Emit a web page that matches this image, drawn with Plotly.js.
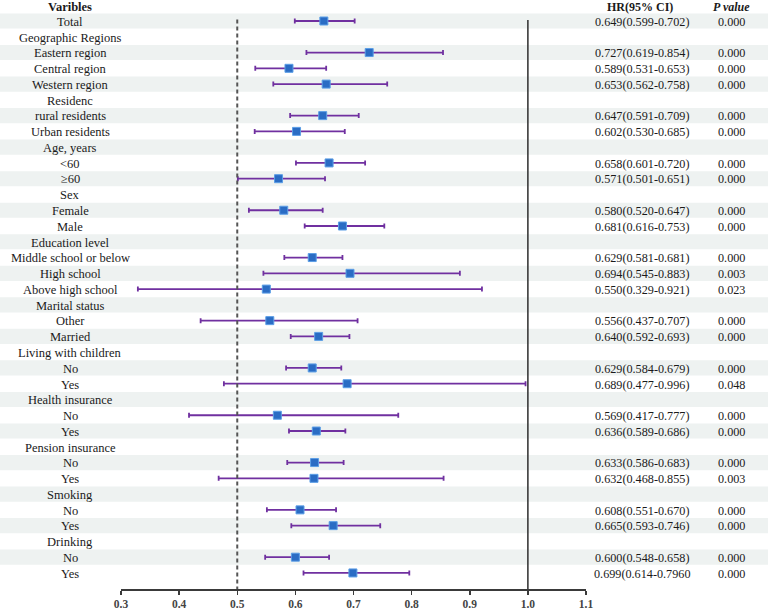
<!DOCTYPE html>
<html>
<head>
<meta charset="utf-8">
<script src="https://cdn.plot.ly/plotly-3.0.1.min.js"></script>
<style>
  html, body { margin: 0; padding: 0; background: #ffffff; }
  #chart { width: 768px; height: 611px; }
</style>
</head>
<body>
<div id="chart"></div>
<script>
// Row labels, top to bottom (group headers have no estimate)
const labels = [
  "Total", "Geographic Regions", "Eastern region", "Central region", "Western region",
  "Residenc", "rural residents", "Urban residents", "Age, years", "<60", "\u226560",
  "Sex", "Female", "Male", "Education level", "Middle school or below", "High school",
  "Above high school", "Marital status", "Other", "Married", "Living with children",
  "No", "Yes", "Health insurance", "No", "Yes", "Pension insurance", "No", "Yes",
  "Smoking", "No", "Yes", "Drinking", "No", "Yes"
];

// Hazard ratios and 95% CI bounds (null for group header rows)
const hr = [
  0.649, null, 0.727, 0.589, 0.653,
  null, 0.647, 0.602, null, 0.658, 0.571,
  null, 0.580, 0.681, null, 0.629, 0.694,
  0.550, null, 0.556, 0.640, null,
  0.629, 0.689, null, 0.569, 0.636, null, 0.633, 0.632,
  null, 0.608, 0.665, null, 0.600, 0.699
];
const lower = [
  0.599, null, 0.619, 0.531, 0.562,
  null, 0.591, 0.530, null, 0.601, 0.501,
  null, 0.520, 0.616, null, 0.581, 0.545,
  0.329, null, 0.437, 0.592, null,
  0.584, 0.477, null, 0.417, 0.589, null, 0.586, 0.468,
  null, 0.551, 0.593, null, 0.548, 0.614
];
const upper = [
  0.702, null, 0.854, 0.653, 0.758,
  null, 0.709, 0.685, null, 0.720, 0.651,
  null, 0.647, 0.753, null, 0.681, 0.883,
  0.921, null, 0.707, 0.693, null,
  0.679, 0.996, null, 0.777, 0.686, null, 0.683, 0.855,
  null, 0.670, 0.746, null, 0.658, 0.796
];

// Text columns as printed
const hrText = [
  "0.649(0.599-0.702)", "", "0.727(0.619-0.854)", "0.589(0.531-0.653)", "0.653(0.562-0.758)",
  "", "0.647(0.591-0.709)", "0.602(0.530-0.685)", "", "0.658(0.601-0.720)", "0.571(0.501-0.651)",
  "", "0.580(0.520-0.647)", "0.681(0.616-0.753)", "", "0.629(0.581-0.681)", "0.694(0.545-0.883)",
  "0.550(0.329-0.921)", "", "0.556(0.437-0.707)", "0.640(0.592-0.693)", "",
  "0.629(0.584-0.679)", "0.689(0.477-0.996)", "", "0.569(0.417-0.777)", "0.636(0.589-0.686)", "",
  "0.633(0.586-0.683)", "0.632(0.468-0.855)",
  "", "0.608(0.551-0.670)", "0.665(0.593-0.746)", "", "0.600(0.548-0.658)", "0.699(0.614-0.7960"
];
const pText = [
  "0.000", "", "0.000", "0.000", "0.000",
  "", "0.000", "0.000", "", "0.000", "0.000",
  "", "0.000", "0.000", "", "0.000", "0.003",
  "0.023", "", "0.000", "0.000", "",
  "0.000", "0.048", "", "0.000", "0.000", "", "0.000", "0.003",
  "", "0.000", "0.000", "", "0.000", "0.000"
];

const xTicks = [0.3, 0.4, 0.5, 0.6, 0.7, 0.8, 0.9, 1.0, 1.1];
const xTickText = ["0.3", "0.4", "0.5", "0.6", "0.7", "0.8", "0.9", "1.0", "1.1"];

// geometry
const W = 768, H = 611;
const rowTopPx = 21, rowH = 15.77, axisPx = 589;
const yTop = -rowTopPx / rowH;
const yBottom = (axisPx - rowTopPx) / rowH;
const serif = "Liberation Serif, Times New Roman, serif";

const rows = labels.map((_, i) => i);
const idx = rows.filter(i => hr[i] !== null);

const trace = {
  type: "scatter",
  mode: "markers",
  x: idx.map(i => hr[i]),
  y: idx.map(i => i),
  error_x: {
    type: "data",
    symmetric: false,
    array: idx.map(i => upper[i] - hr[i]),
    arrayminus: idx.map(i => hr[i] - lower[i]),
    color: "#7030a0",
    thickness: 1.8,
    width: 2.5
  },
  marker: {
    symbol: "square",
    size: 8,
    color: "#2a6cc4",
    line: { color: "#5b9ee6", width: 1 }
  },
  hoverinfo: "skip",
  showlegend: false
};

const shapes = [];
// alternating row bands
rows.forEach(i => {
  if (i % 2 === 0) {
    shapes.push({
      type: "rect", xref: "paper", yref: "y",
      x0: 0, x1: 1, y0: i - 0.48, y1: i + 0.48,
      fillcolor: "#eef2f1", line: { width: 0 }, layer: "below"
    });
  }
});
// reference lines
shapes.push({
  type: "line", xref: "x", yref: "y",
  x0: 0.5, x1: 0.5, y0: -0.1, y1: yBottom,
  line: { color: "#555555", width: 2, dash: "4px,3px" }
});
shapes.push({
  type: "line", xref: "x", yref: "y",
  x0: 1.0, x1: 1.0, y0: -0.06, y1: yBottom,
  line: { color: "#3a3a3a", width: 1.6 }
});

const annotations = [];
const labelX = 70 / W, hrX = 642 / W, pX = 731 / W;
const txt = (x, y, text, size, extra) => Object.assign({
  xref: "paper", yref: "y", x: x, y: y, text: text, showarrow: false,
  xanchor: "center", yanchor: "middle",
  font: { family: serif, size: size, color: "#1a1a1a" }
}, extra || {});

// column headers
annotations.push(txt(labelX, -0.88, "<b>Varibles</b>", 12.5));
annotations.push(txt(640 / W, -0.88, "<b>HR(95% CI)</b>", 12));
annotations.push(txt(pX, -0.88, "<b><i>P value</i></b>", 12));

rows.forEach(i => {
  annotations.push(txt(labelX, i + 0.05, labels[i], 12.5));
  if (hrText[i]) annotations.push(txt(hrX, i + 0.05, hrText[i], 12.2));
  if (pText[i]) annotations.push(txt(pX, i + 0.05, pText[i], 12.2));
});

const layout = {
  width: W, height: H,
  margin: { l: 0, r: 0, t: 0, b: H - axisPx },
  paper_bgcolor: "#ffffff",
  plot_bgcolor: "rgba(0,0,0,0)",
  xaxis: {
    domain: [121 / W, 586 / W],
    range: [0.3, 1.1],
    tickvals: xTicks,
    ticktext: xTickText.map(t => "<b>" + t + "</b>"),
    ticks: "outside", ticklen: 4, tickwidth: 1.5, tickcolor: "#3a3a3a",
    showline: true, linecolor: "#3a3a3a", linewidth: 1.5,
    showgrid: false, zeroline: false,
    tickfont: { family: serif, size: 11.5, color: "#444444" },
    fixedrange: true
  },
  yaxis: {
    range: [yBottom, yTop],
    visible: false, showgrid: false, zeroline: false,
    fixedrange: true
  },
  shapes: shapes,
  annotations: annotations,
  showlegend: false
};

Plotly.newPlot("chart", [trace], layout, { staticPlot: true, displayModeBar: false });
</script>
</body>
</html>
